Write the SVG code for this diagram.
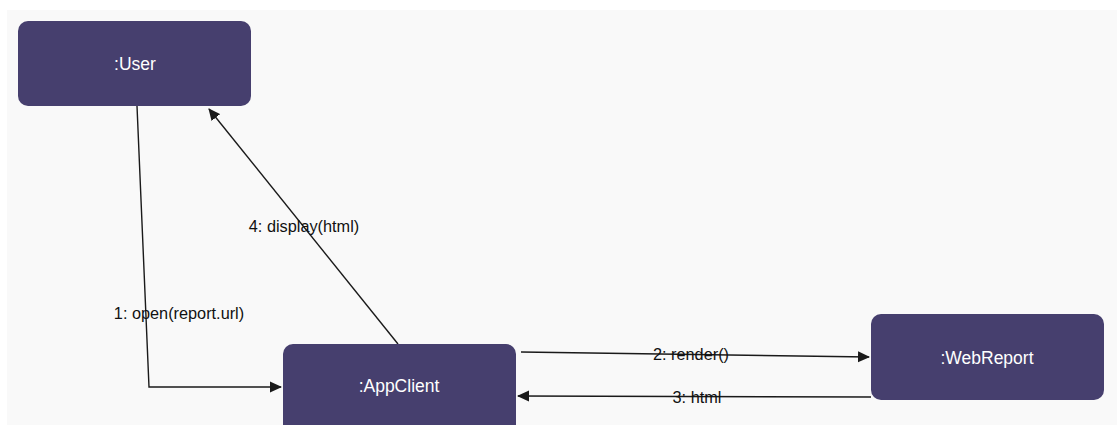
<svg xmlns="http://www.w3.org/2000/svg" width="1117" height="425" viewBox="0 0 1117 425">
<style>
.node{fill:#463f6e;}
.nt{font-family:"Liberation Sans",Arial,sans-serif;font-size:17.5px;fill:#ffffff;text-anchor:middle;dominant-baseline:central;}
.edge{fill:none;stroke:#1a1a1a;stroke-width:1.4;}
.lbl{font-family:"Liberation Sans",Arial,sans-serif;font-size:16.3px;fill:#111111;text-anchor:middle;dominant-baseline:central;}
</style>
<defs>
<marker id="arr" viewBox="0 0 12 12" refX="11" refY="6" markerWidth="12" markerHeight="12" markerUnits="userSpaceOnUse" orient="auto">
<path d="M0,0.5 L12,6 L0,11.5 z" fill="#1a1a1a"/>
</marker>
</defs>
<rect x="0" y="0" width="1117" height="425" fill="#ffffff"/>
<rect x="7" y="10" width="1110" height="415" fill="#f9f9f9"/>
<g id="connectors">
<polyline class="edge" points="137,106 149,387 281,387" marker-end="url(#arr)"/>
<line class="edge" x1="398" y1="344" x2="209" y2="109" marker-end="url(#arr)"/>
<line class="edge" x1="521" y1="352" x2="869" y2="357" marker-end="url(#arr)"/>
<line class="edge" x1="871" y1="397" x2="518" y2="396" marker-end="url(#arr)"/>
<text class="lbl" x="179" y="313">1: open(report.url)</text>
<text class="lbl" x="304" y="226">4: display(html)</text>
<text class="lbl" x="691" y="354">2: render()</text>
<text class="lbl" x="697" y="397">3: html</text>
</g>
<g id="user">
<rect class="node" x="18" y="21" width="233" height="85" rx="10"/>
<text class="nt" x="135" y="64">:User</text>
</g>
<g id="appclient">
<rect class="node" x="283" y="344" width="233" height="90" rx="10"/>
<text class="nt" x="399" y="386">:AppClient</text>
</g>
<g id="webreport">
<rect class="node" x="871" y="314" width="233" height="86" rx="10"/>
<text class="nt" x="987" y="358">:WebReport</text>
</g>
</svg>
